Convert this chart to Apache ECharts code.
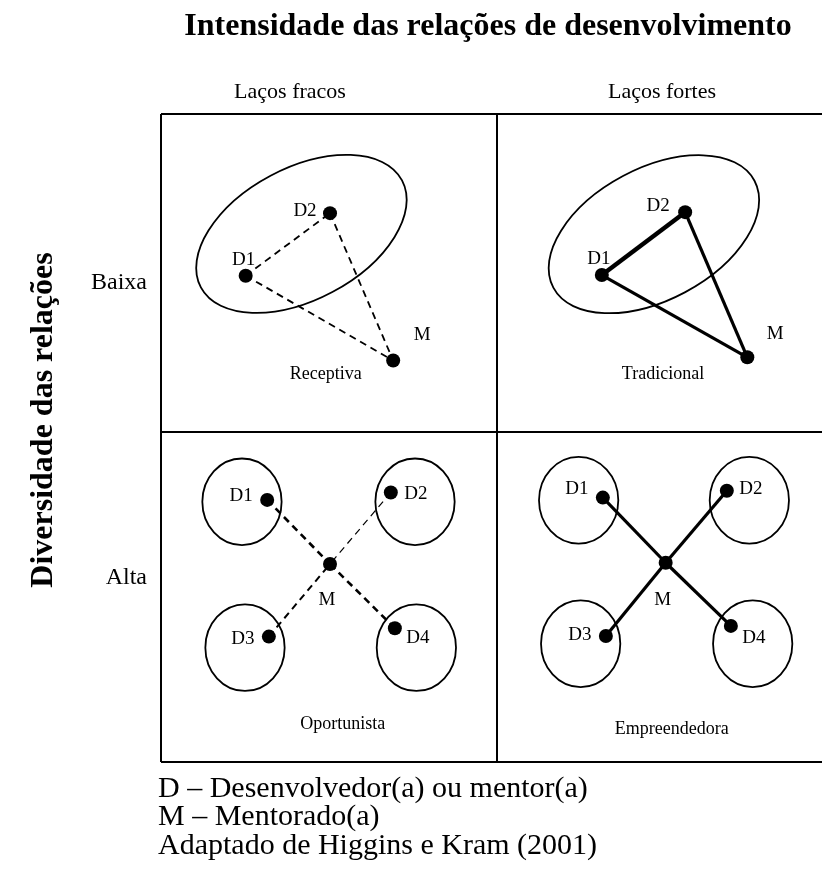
<!DOCTYPE html>
<html>
<head>
<meta charset="utf-8">
<script src="https://cdn.jsdelivr.net/npm/echarts@6/dist/echarts.min.js"></script>
<style>
html, body { margin: 0; background: #fff; }
#main { width: 822px; height: 875px; }
</style>
</head>
<body>
<div id="main"></div>
<script>
// columns: x 0..1 = weak ties, 1..2 = strong ties ; rows: y 0..~1 = low diversity, ~1..2 = high
var colLabels = ['Laços fracos', 'Laços fortes'];
var rowLabels = ['Baixa', 'Alta'];
var rowDivider = 0.981;

var quadNames = ['Receptiva', 'Tradicional', 'Oportunista', 'Empreendedora'];
var quadNamePos = [[0.490, 0.802], [1.494, 0.802], [0.541, 1.883], [1.520, 1.898]];

// nodes: [quadrant, name, x, y]
var nodes = [
  [0, 'D1', 0.252, 0.499], [0, 'D2', 0.503, 0.306], [0, 'M', 0.691, 0.761],
  [1, 'D1', 1.312, 0.497], [1, 'D2', 1.560, 0.303], [1, 'M', 1.745, 0.751],
  [2, 'D1', 0.316, 1.191], [2, 'D2', 0.684, 1.168], [2, 'M', 0.503, 1.389],
  [2, 'D3', 0.321, 1.613], [2, 'D4', 0.696, 1.587],
  [3, 'D1', 1.315, 1.184], [3, 'D2', 1.684, 1.163], [3, 'M', 1.502, 1.385],
  [3, 'D3', 1.324, 1.611], [3, 'D4', 1.696, 1.580]
];

// links: [quadrant, from, to, strong]
var links = [
  [0, 'D1', 'D2', 0], [0, 'D1', 'M', 0], [0, 'D2', 'M', 0],
  [1, 'D1', 'D2', 1], [1, 'D1', 'M', 1], [1, 'D2', 'M', 1],
  [2, 'D1', 'M', 0], [2, 'D2', 'M', 0], [2, 'D3', 'M', 0], [2, 'D4', 'M', 0],
  [3, 'D1', 'M', 1], [3, 'D2', 'M', 1], [3, 'D3', 'M', 1], [3, 'D4', 'M', 1]
];

// groups (ellipses): [cx, cy, rx, ry, angle] radii in x units
var groups = [
  [0.418, 0.370, 0.339, 0.196, 28],
  [1.467, 0.371, 0.339, 0.196, 28],
  [0.241, 1.197, 0.118, 0.129, 0], [0.756, 1.197, 0.118, 0.129, 0],
  [0.250, 1.647, 0.118, 0.129, 0], [0.760, 1.647, 0.118, 0.129, 0],
  [1.243, 1.192, 0.118, 0.129, 0], [1.751, 1.192, 0.118, 0.129, 0],
  [1.249, 1.635, 0.118, 0.129, 0], [1.761, 1.635, 0.118, 0.129, 0]
];

var legendLines = ['D – Desenvolvedor(a) ou mentor(a)', 'M – Mentorado(a)', 'Adaptado de Higgins e Kram (2001)'];

// label offsets (px) from dot centre, per quadrant
var labelOffset = [
  { D1: [-2, -16], D2: [-25, -2], M: [29, -26] },
  { D1: [-3, -16], D2: [-27, -6], M: [28, -23] },
  { D1: [-26, -4], D2: [25, 2], M: [-3, 36], D3: [-26, 2], D4: [23, 10] },
  { D1: [-26, -9], D2: [24, -2], M: [-3, 37], D3: [-26, -1], D4: [23, 12] }
];

var FONT = '"Liberation Serif", "Times New Roman", serif';

function findNode(q, n) {
  for (var i = 0; i < nodes.length; i++) {
    if (nodes[i][0] === q && nodes[i][1] === n) return nodes[i];
  }
}

var nodeData = nodes.map(function (d) {
  return {
    name: d[1],
    value: [d[2], d[3]],
    label: { offset: labelOffset[d[0]][d[1]] }
  };
});

var linkData = links.map(function (l) {
  var a = findNode(l[0], l[1]), b = findNode(l[0], l[2]);
  var style;
  if (l[3]) {
    style = { type: 'solid', width: (l[0] === 1 && l[2] === 'D2') ? 4.5 : 3.2 };
  } else {
    var w = 1.8;
    if (l[0] === 2) w = (l[1] === 'D2') ? 1.2 : (l[1] === 'D3' ? 2 : 2.6);
    style = { type: [7, 5], width: w };
  }
  return { coords: [[a[2], a[3]], [b[2], b[3]]], lineStyle: style };
});

var quadData = quadNames.map(function (n, i) {
  return { name: n, value: quadNamePos[i] };
});

function txt(s, x, y, size, align, bold, rot) {
  return {
    type: 'text', x: x, y: y, silent: true, rotation: rot || 0,
    style: {
      text: s, fill: '#000',
      font: (bold ? 'bold ' : '') + size + 'px ' + FONT,
      align: align, verticalAlign: 'middle',
      textAlign: align, textVerticalAlign: 'middle'
    }
  };
}

var dom = document.getElementById('main');
var myChart = echarts.init(dom);
var option = {
  animation: false,
  backgroundColor: '#fff',
  grid: {
    left: 161, top: 114, width: 661, height: 648, show: false
  },
  xAxis: {
    type: 'value', min: 0, max: 661 / 336,
    axisLine: { show: false }, axisTick: { show: false },
    axisLabel: { show: false }, splitLine: { show: false }
  },
  yAxis: {
    type: 'value', min: 0, max: 2, inverse: true,
    axisLine: { show: false }, axisTick: { show: false },
    axisLabel: { show: false }, splitLine: { show: false }
  },
  graphic: [
    txt('Intensidade das relações de desenvolvimento', 488, 27, 32, 'center', true),
    txt('Diversidade das relações', 44, 420, 32, 'center', true, Math.PI / 2),
    txt(colLabels[0], 290, 92, 22, 'center'),
    txt(colLabels[1], 662, 92, 22, 'center'),
    txt(rowLabels[0], 147, 283, 24, 'right'),
    txt(rowLabels[1], 147, 578, 24, 'right'),
    txt(legendLines[0], 158, 789, 30, 'left'),
    txt(legendLines[1], 158, 817, 30, 'left'),
    txt(legendLines[2], 158, 846, 30, 'left')
  ],
  series: [
    {
      type: 'custom',
      coordinateSystem: 'cartesian2d',
      silent: true,
      clip: false,
      data: groups,
      encode: { x: 0, y: 1 },
      renderItem: function (params, api) {
        var c = api.coord([api.value(0), api.value(1)]);
        var rx = api.size([api.value(2), 0])[0];
        var ry = api.size([api.value(3), 0])[0];
        return {
          type: 'ellipse',
          x: c[0], y: c[1],
          rotation: api.value(4) * Math.PI / 180,
          shape: { cx: 0, cy: 0, rx: rx, ry: ry },
          style: { fill: 'none', stroke: '#000', lineWidth: 1.8 }
        };
      }
    },
    {
      type: 'lines',
      coordinateSystem: 'cartesian2d',
      silent: true,
      data: linkData,
      lineStyle: { color: '#000', opacity: 1, curveness: 0 }
    },
    {
      type: 'scatter',
      silent: true,
      clip: false,
      symbolSize: 14,
      itemStyle: { color: '#000', opacity: 1 },
      data: nodeData,
      label: {
        show: true, position: 'inside', formatter: '{b}',
        fontFamily: FONT, fontSize: 19, color: '#000'
      },
      markLine: {
        silent: true, symbol: ['none', 'none'],
        label: { show: false },
        lineStyle: { color: '#000', width: 2, type: 'solid', opacity: 1 },
        data: [{ xAxis: 0 }, { xAxis: 1 }, { yAxis: 0 }, { yAxis: rowDivider }, { yAxis: 2 }]
      }
    },
    {
      type: 'scatter',
      silent: true,
      symbolSize: 0,
      itemStyle: { opacity: 1 },
      data: quadData,
      label: {
        show: true, position: 'inside', formatter: '{b}',
        fontFamily: FONT, fontSize: 18, color: '#000'
      }
    }
  ]
};
myChart.setOption(option);
window.addEventListener('resize', function () {
  myChart.resize();
});
</script>
</body>
</html>
